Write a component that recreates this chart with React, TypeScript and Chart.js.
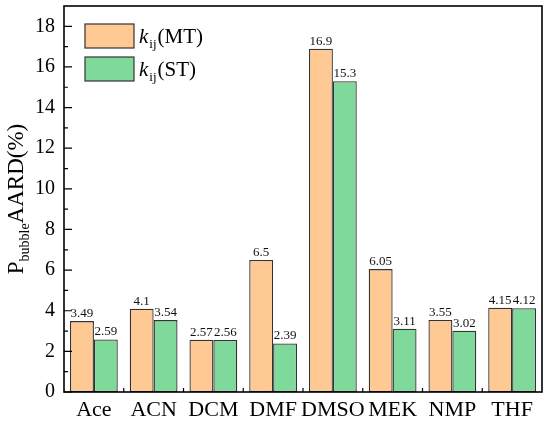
import { useEffect, useRef } from 'react';
import { Chart, registerables } from 'chart.js';

Chart.register(...registerables);

const categories = ['Ace', 'ACN', 'DCM', 'DMF', 'DMSO', 'MEK', 'NMP', 'THF'];
const mtValues = [3.49, 4.1, 2.57, 6.5, 16.9, 6.05, 3.55, 4.15];
const stValues = [2.59, 3.54, 2.56, 2.39, 15.3, 3.11, 3.02, 4.12];
const yTickValues = [0, 2, 4, 6, 8, 10, 12, 14, 16, 18];
const legendNames = ['MT', 'ST'];

const SERIF = '"Liberation Serif", "Times New Roman", serif';
const MT_COLOR = '#FFC994';
const ST_COLOR = '#7FD99B';

// frame, inward ticks, value labels, legend and axis title
const decorPlugin = {
  id: 'decor',
  afterDatasetsDraw(chart: any) {
    const { ctx, chartArea } = chart;
    const { left, right, top, bottom } = chartArea;
    const yScale = chart.scales.y;
    const xScale = chart.scales.x;

    ctx.save();
    ctx.strokeStyle = '#000';
    ctx.lineWidth = 1.6;
    ctx.strokeRect(left, top, right - left, bottom - top);

    // y ticks (major + minor), pointing inward
    ctx.lineWidth = 1.2;
    ctx.beginPath();
    yTickValues.forEach((v) => {
      const py = yScale.getPixelForValue(v);
      ctx.moveTo(left, py);
      ctx.lineTo(left + 8, py);
      const my = yScale.getPixelForValue(v + 1);
      if (my > top + 2) {
        ctx.moveTo(left, my);
        ctx.lineTo(left + 4, my);
      }
    });
    // x ticks at category boundaries
    for (let i = 1; i < categories.length; i++) {
      const px = (xScale.getPixelForValue(i - 1) + xScale.getPixelForValue(i)) / 2;
      ctx.moveTo(px, bottom);
      ctx.lineTo(px, bottom - 4);
    }
    ctx.stroke();

    // value labels
    ctx.fillStyle = '#111';
    ctx.font = `13px ${SERIF}`;
    ctx.textAlign = 'center';
    ctx.textBaseline = 'bottom';
    chart.data.datasets.forEach((ds: any, di: number) => {
      const meta = chart.getDatasetMeta(di);
      meta.data.forEach((el: any, i: number) => {
        ctx.fillText(String(ds.data[i]), el.x, el.y - 1);
      });
    });

    // legend
    const colors = [MT_COLOR, ST_COLOR];
    legendNames.forEach((name, i) => {
      const bx = left + 21;
      const by = top + 18 + i * 33;
      ctx.fillStyle = colors[i];
      ctx.fillRect(bx, by, 49, 24);
      ctx.strokeStyle = '#333';
      ctx.lineWidth = 1.2;
      ctx.strokeRect(bx, by, 49, 24);
      ctx.fillStyle = '#000';
      ctx.textAlign = 'left';
      ctx.textBaseline = 'alphabetic';
      let tx = bx + 54;
      const base = by + 19;
      ctx.font = `italic 21px ${SERIF}`;
      ctx.fillText('k', tx, base);
      tx += ctx.measureText('k').width + 1;
      ctx.font = `13px ${SERIF}`;
      ctx.fillText('ij', tx, base + 5);
      tx += ctx.measureText('ij').width + 1;
      ctx.font = `21px ${SERIF}`;
      ctx.fillText(`(${name})`, tx, base);
    });

    // y axis title
    ctx.translate(23, (top + bottom) / 2);
    ctx.rotate(-Math.PI / 2);
    ctx.textAlign = 'left';
    ctx.textBaseline = 'alphabetic';
    const bigFont = `23px ${SERIF}`;
    const subFont = `14px ${SERIF}`;
    ctx.font = bigFont;
    const wP = ctx.measureText('P').width;
    const wRest = ctx.measureText('AARD(%)').width;
    ctx.font = subFont;
    const wSub = ctx.measureText('bubble').width;
    let sx = -(wP + wSub + wRest) / 2;
    ctx.font = bigFont;
    ctx.fillText('P', sx, 0);
    sx += wP;
    ctx.font = subFont;
    ctx.fillText('bubble', sx, 6);
    sx += wSub;
    ctx.font = bigFont;
    ctx.fillText('AARD(%)', sx, 0);
    ctx.restore();
  },
};

export default function App() {
  const canvasRef = useRef<HTMLCanvasElement>(null);
  const chartRef = useRef<Chart | null>(null);

  useEffect(() => {
    document.body.style.margin = '0';
    if (!canvasRef.current) return;
    if (chartRef.current) chartRef.current.destroy();

    chartRef.current = new Chart(canvasRef.current, {
      type: 'bar',
      data: {
        labels: categories,
        datasets: [
          {
            label: 'kij(MT)',
            data: mtValues,
            backgroundColor: MT_COLOR,
            borderColor: '#333',
            borderWidth: 1.3,
            borderSkipped: false,
          },
          {
            label: 'kij(ST)',
            data: stValues,
            backgroundColor: ST_COLOR,
            borderColor: '#333',
            borderWidth: 1.3,
            borderSkipped: false,
          },
        ],
      },
      options: {
        animation: false,
        responsive: true,
        maintainAspectRatio: false,
        datasets: { bar: { barPercentage: 1, categoryPercentage: 0.8 } },
        layout: { padding: { top: 6, right: 8, left: 0, bottom: 0 } },
        plugins: {
          legend: { display: false },
          tooltip: { enabled: false },
        },
        scales: {
          x: {
            grid: { display: false, drawTicks: false },
            border: { display: false },
            ticks: {
              color: '#000',
              padding: 5,
              maxRotation: 0,
              minRotation: 0,
              autoSkip: false,
              font: { family: SERIF, size: 22 },
            },
            afterFit: (scale: any) => {
              scale.height = 31;
              scale.paddingLeft = 0;
              scale.paddingRight = 0;
            },
          },
          y: {
            min: 0,
            max: 19,
            grid: { display: false, drawTicks: false },
            border: { display: false },
            ticks: {
              color: '#000',
              padding: 9,
              font: { family: SERIF, size: 20 },
            },
            afterBuildTicks: (scale: any) => {
              scale.ticks = yTickValues.map((v) => ({ value: v }));
            },
            afterFit: (scale: any) => {
              scale.width = 64;
              scale.paddingTop = 0;
              scale.paddingBottom = 0;
            },
          },
        },
      },
      plugins: [decorPlugin],
    });

    return () => {
      if (chartRef.current) {
        chartRef.current.destroy();
        chartRef.current = null;
      }
    };
  }, []);

  return (
    <div style={{ width: 550, height: 423, position: 'relative', background: '#fff' }}>
      <canvas ref={canvasRef} />
    </div>
  );
}
